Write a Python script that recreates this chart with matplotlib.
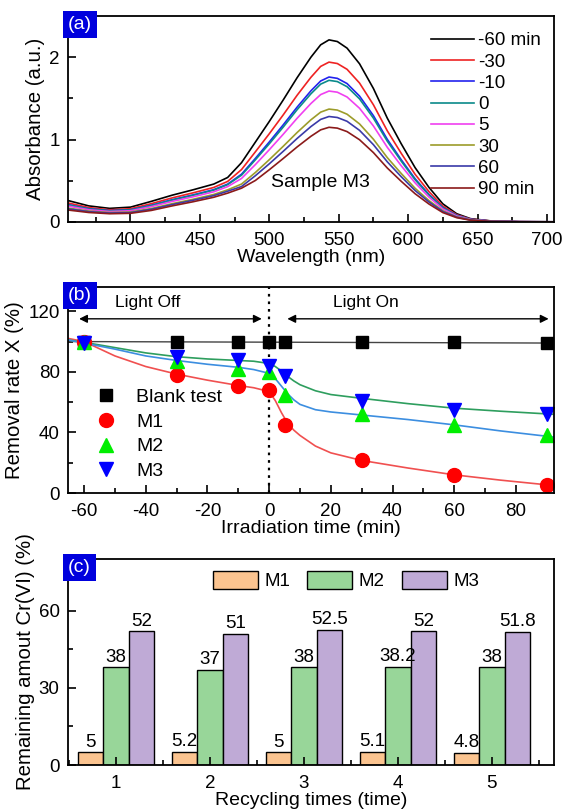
import matplotlib
matplotlib.use("Agg")
import matplotlib.pyplot as plt
from matplotlib.ticker import MultipleLocator

plt.rcParams['font.family'] = ['Liberation Sans', 'DejaVu Sans']
plt.rcParams['axes.linewidth'] = 1.3
plt.rcParams['axes.unicode_minus'] = False
plt.rcParams['xtick.direction'] = 'in'
plt.rcParams['ytick.direction'] = 'in'

# ---------------- Panel (a) data ----------------
wl = [355, 370, 385, 400, 415, 430, 445, 460, 470, 480, 490, 500, 510, 520, 530, 537,
      543, 549, 556, 565, 575, 585, 595, 605, 615, 625, 635, 645, 660, 680, 705]
abs_m60 = [0.26, 0.195, 0.165, 0.18, 0.25, 0.325, 0.39, 0.46, 0.54, 0.72, 0.97, 1.22, 1.48, 1.75, 2.00, 2.15,
           2.21, 2.19, 2.11, 1.92, 1.62, 1.26, 0.95, 0.66, 0.42, 0.22, 0.10, 0.04, 0.012, 0.004, 0.002]
abs_m30 = [0.231, 0.175, 0.148, 0.161, 0.222, 0.292, 0.353, 0.419, 0.492, 0.636, 0.852, 1.071, 1.299, 1.537, 1.756, 1.888,
           1.940, 1.923, 1.853, 1.686, 1.422, 1.106, 0.834, 0.579, 0.369, 0.193, 0.088, 0.035, 0.011, 0.004, 0.002]
abs_m10 = [0.211, 0.161, 0.137, 0.148, 0.203, 0.270, 0.328, 0.392, 0.459, 0.580, 0.772, 0.971, 1.178, 1.393, 1.592, 1.711,
           1.759, 1.743, 1.680, 1.528, 1.290, 1.003, 0.756, 0.525, 0.334, 0.175, 0.080, 0.032, 0.010, 0.003, 0.002]
abs_0 = [0.207, 0.158, 0.135, 0.146, 0.199, 0.265, 0.323, 0.386, 0.453, 0.568, 0.755, 0.949, 1.151, 1.362, 1.556, 1.673,
         1.719, 1.704, 1.642, 1.494, 1.260, 0.980, 0.739, 0.513, 0.327, 0.171, 0.078, 0.031, 0.009, 0.003, 0.002]
abs_5 = [0.193, 0.148, 0.127, 0.136, 0.186, 0.249, 0.305, 0.366, 0.429, 0.528, 0.697, 0.877, 1.064, 1.258, 1.438, 1.546,
         1.589, 1.575, 1.517, 1.380, 1.165, 0.906, 0.683, 0.475, 0.302, 0.158, 0.072, 0.029, 0.009, 0.003, 0.001]
abs_30 = [0.169, 0.132, 0.114, 0.121, 0.163, 0.222, 0.275, 0.334, 0.390, 0.460, 0.601, 0.756, 0.918, 1.085, 1.240, 1.333,
          1.370, 1.358, 1.308, 1.190, 1.004, 0.781, 0.589, 0.409, 0.260, 0.136, 0.062, 0.025, 0.007, 0.002, 0.001]
abs_60 = [0.159, 0.125, 0.108, 0.114, 0.154, 0.211, 0.263, 0.320, 0.373, 0.430, 0.562, 0.706, 0.857, 1.013, 1.158, 1.245,
          1.280, 1.268, 1.222, 1.112, 0.938, 0.730, 0.550, 0.382, 0.243, 0.127, 0.058, 0.023, 0.007, 0.002, 0.001]
abs_90 = [0.145, 0.115, 0.100, 0.105, 0.140, 0.195, 0.245, 0.300, 0.350, 0.410, 0.504, 0.634, 0.770, 0.910, 1.040, 1.118,
          1.149, 1.139, 1.097, 0.998, 0.842, 0.655, 0.494, 0.343, 0.218, 0.114, 0.052, 0.021, 0.006, 0.002, 0.001]
spec_labels = ['-60 min', '-30', '-10', '0', '5', '30', '60', '90 min']
spec_colors = ['#000000', '#ee2222', '#2222ee', '#0a8a8a', '#f040f0', '#9c9c2a', '#3a3aa8', '#8b1a1a']
spectra = [abs_m60, abs_m30, abs_m10, abs_0, abs_5, abs_30, abs_60, abs_90]

# ---------------- Panel (b) data ----------------
t = [-60, -30, -10, 0, 5, 30, 60, 90]
blank = [100, 99.5, 99.5, 99.5, 99.5, 99.5, 99.5, 99]
m1 = [100, 78, 70.5, 68, 45, 22, 12, 5]
m2 = [100, 87, 82, 80, 65, 52, 45, 38]
m3 = [99, 90, 88, 84, 77, 61, 55, 52]
t_fit = [-65, -60, -50, -40, -30, -20, -10, -5, 0, 2, 4, 6, 8, 10, 15, 20, 30, 45, 60, 75, 92]
fit_m1 = [102, 100, 90.5, 83.5, 78.5, 74.5, 71, 69.5, 67, 61, 53, 46, 41.5, 38, 31, 26.5, 21.5, 16.5, 12, 8.5, 5]
fit_m3 = [101, 99.5, 96, 92.5, 90, 88.5, 87.5, 87, 85.5, 83.5, 80.5, 77, 74, 71.5, 67.5, 65, 62.5, 59, 56, 54, 52]
fit_m2 = [101, 99, 95, 90.5, 87.5, 85, 83, 81.5, 79, 75.5, 70.5, 65.5, 61.5, 58.5, 55, 53.5, 51.5, 48.5, 45, 41, 37]
t_blank_line = [-65, 92]
blank_line = [100, 99]

# ---------------- Panel (c) data ----------------
cycles = [1, 2, 3, 4, 5]
c_m1 = [5, 5.2, 5, 5.1, 4.8]
c_m2 = [38, 37, 38, 38.2, 38]
c_m3 = [52, 51, 52.5, 52, 51.8]
c_m1_lbl = ['5', '5.2', '5', '5.1', '4.8']
c_m2_lbl = ['38', '37', '38', '38.2', '38']
c_m3_lbl = ['52', '51', '52.5', '52', '51.8']

FS = 13.5      # tick labels
XLFS = 14      # x labels
YLFS = 14.7    # y labels

fig = plt.figure(figsize=(5.63, 8.11), dpi=100)
L, W, H = 0.1208, 0.863, 0.254
axa = fig.add_axes([L, 0.7263, W, H])
axb = fig.add_axes([L, 0.3921, W, H])
axc = fig.add_axes([L, 0.0567, W, H])


def style(ax):
    ax.tick_params(which='major', length=6, width=1.2, labelsize=FS, pad=6, top=False, right=False)
    ax.tick_params(which='minor', length=3.5, width=1.2, top=False, right=False)
    ax.tick_params(axis='x', which='major', pad=7)
    for sp in ax.spines.values():
        sp.set_zorder(5)


def panel_label(ax, s):
    ax.text(0.0, 1.0, s, transform=ax.transAxes, ha='left', va='top', color='white',
            fontsize=14, zorder=10,
            bbox=dict(boxstyle='square,pad=0.25', facecolor='#0000dd', edgecolor='none'))

# ---- (a)
for y, c, lab in zip(spectra, spec_colors, spec_labels):
    axa.plot(wl, y, color=c, lw=1.2, label=lab)
axa.set_xlim(355, 705)
axa.set_ylim(0, 2.5)
axa.xaxis.set_major_locator(MultipleLocator(50))
axa.xaxis.set_minor_locator(MultipleLocator(25))
axa.yaxis.set_major_locator(MultipleLocator(1))
axa.yaxis.set_minor_locator(MultipleLocator(0.5))
style(axa)
axa.set_xlabel('Wavelength (nm)', fontsize=XLFS, labelpad=0)
axa.set_ylabel('Absorbance (a.u.)', fontsize=YLFS, labelpad=3)
axa.text(537, 0.48, 'Sample M3', fontsize=14, ha='center', va='center')
axa.legend(loc='upper right', bbox_to_anchor=(1.0, 0.985), frameon=False, fontsize=FS,
           handlelength=2.3, handletextpad=0.2, labelspacing=0.22, borderaxespad=0.3)
panel_label(axa, '(a)')

# ---- (b)
axb.plot(t_blank_line, blank_line, color='#444444', lw=1.0, zorder=2)
axb.plot(t_fit, fit_m1, color='#f05050', lw=1.2, zorder=2)
axb.plot(t_fit, fit_m3, color='#2e9e5e', lw=1.2, zorder=2)
axb.plot(t_fit, fit_m2, color='#3c8ee0', lw=1.2, zorder=2)
axb.plot(t, blank, 's', color='black', ms=9, label='Blank test', zorder=3)
axb.plot(t, m1, 'o', color='#ff0000', ms=10, label='M1', zorder=3)
axb.plot(t, m2, '^', color='#00ee00', ms=10.5, label='M2', zorder=3)
axb.plot(t, m3, 'v', color='#0000ff', ms=10.5, label='M3', zorder=3)
axb.axvline(0, color='black', ls=(0, (1.2, 2.2)), lw=1.6, zorder=1)
axb.annotate('', xy=(-62.5, 115), xytext=(-1.5, 115),
             arrowprops=dict(arrowstyle='<|-|>', color='black', lw=1.0, mutation_scale=12))
axb.annotate('', xy=(5.0, 115), xytext=(91.5, 115),
             arrowprops=dict(arrowstyle='<|-|>', color='black', lw=1.0, mutation_scale=12))
axb.text(-39.5, 125.5, 'Light Off', fontsize=12.5, ha='center', va='center')
axb.text(31.5, 125.5, 'Light On', fontsize=12.5, ha='center', va='center')
axb.set_xlim(-65.2, 92.3)
axb.set_ylim(0, 136)
axb.xaxis.set_major_locator(MultipleLocator(20))
axb.xaxis.set_minor_locator(MultipleLocator(10))
axb.yaxis.set_major_locator(MultipleLocator(40))
axb.yaxis.set_minor_locator(MultipleLocator(20))
style(axb)
axb.set_xlabel('Irradiation time (min)', fontsize=XLFS, labelpad=0)
axb.set_ylabel('Removal rate X (%)', fontsize=YLFS, labelpad=3)
axb.legend(loc='center left', bbox_to_anchor=(0.048, 0.285), frameon=False, fontsize=14,
           handlelength=1.5, handletextpad=0.8, labelspacing=0.36, borderpad=0, borderaxespad=0)
panel_label(axb, '(b)')

# ---- (c)
bw = 0.27
x1 = [c - bw for c in cycles]
x3 = [c + bw for c in cycles]
b1 = axc.bar(x1, c_m1, width=bw, color='#fbc490', edgecolor='black', lw=1.0, label='M1', zorder=2)
b2 = axc.bar(cycles, c_m2, width=bw, color='#98d699', edgecolor='black', lw=1.0, label='M2', zorder=2)
b3 = axc.bar(x3, c_m3, width=bw, color='#bfaad6', edgecolor='black', lw=1.0, label='M3', zorder=2)
axc.bar_label(b1, labels=c_m1_lbl, fontsize=FS, padding=1)
axc.bar_label(b2, labels=c_m2_lbl, fontsize=FS, padding=1)
axc.bar_label(b3, labels=c_m3_lbl, fontsize=FS, padding=1)
axc.set_xlim(0.49, 5.66)
axc.set_ylim(0, 80)
axc.set_xticks(cycles)
axc.xaxis.set_minor_locator(MultipleLocator(0.5))
axc.yaxis.set_major_locator(MultipleLocator(30))
axc.yaxis.set_minor_locator(MultipleLocator(15))
style(axc)
axc.set_axisbelow(False)
axc.set_xlabel('Recycling times (time)', fontsize=XLFS, labelpad=0)
axc.set_ylabel('Remaining amout Cr(VI) (%)', fontsize=YLFS, labelpad=3)
axc.legend(loc='center', bbox_to_anchor=(0.572, 0.896), ncol=3, frameon=False, fontsize=FS,
           handlelength=2.4, handleheight=1.15, handletextpad=0.35, columnspacing=0.9,
           borderpad=0, borderaxespad=0)
panel_label(axc, '(c)')

fig.savefig('out.png', dpi=100)
